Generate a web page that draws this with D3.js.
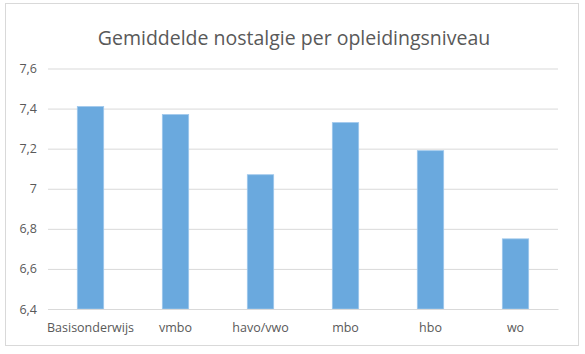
<!DOCTYPE html>
<html><head><meta charset="utf-8">
<script src="https://cdn.jsdelivr.net/npm/d3@7"></script>
<style>html,body{margin:0;padding:0;background:#fff;}svg{display:block;}</style>
</head><body>
<script>
const categories = ["Basisonderwijs","vmbo","havo/vwo","mbo","hbo","wo"];
const values = [7.41, 7.37, 7.07, 7.33, 7.19, 6.75];
const yTicks = [6.4, 6.6, 6.8, 7.0, 7.2, 7.4, 7.6];
const title = "Gemiddelde nostalgie per opleidingsniveau";

(function(){
const W = 585, H = 354;
const svg = d3.select("body").append("svg").attr("width", W).attr("height", H);
svg.append("rect").attr("x",5.5).attr("y",3.5).attr("width",573).attr("height",342)
  .attr("fill","#fff").attr("stroke","#d9d9d9").attr("stroke-width",1);

const mL = 48, mR = 558, mT = 68.5, mB = 309;
const x = d3.scaleBand().domain(categories).range([mL, mR]).paddingInner(0.69).paddingOuter(0.345);
const y = d3.scaleLinear().domain([6.4, 7.6]).range([mB, mT]);

const font = "'Open Sans', sans-serif";
svg.append("text").attr("x", 294).attr("y", 45).attr("text-anchor","middle")
  .attr("font-family", font).attr("font-size", 19.5).attr("fill","#595959").text(title);

const fmt = d => (Math.round(d*10)/10).toString().replace(".", ",");
const yAxis = d3.axisLeft(y).tickValues(yTicks).tickSize(-(mR-mL)).tickFormat(fmt).tickPadding(11);
const gy = svg.append("g").attr("transform",`translate(${mL},0)`).call(yAxis);
gy.select(".domain").remove();
gy.selectAll(".tick line").attr("stroke","#d9d9d9");
gy.selectAll(".tick text").attr("font-family",font).attr("font-size",12.5).attr("fill","#595959");

svg.append("g").selectAll("rect").data(values).join("rect")
  .attr("x",(d,i)=>x(categories[i])).attr("width",x.bandwidth())
  .attr("y",d=>y(d)).attr("height",d=>y(6.4)-y(d))
  .attr("fill","#6aa9de").attr("stroke","#9ec7ec").attr("stroke-width",0.8);

const xAxis = d3.axisBottom(x).tickSize(0).tickPadding(14);
const gx = svg.append("g").attr("transform",`translate(0,${mB})`).call(xAxis);
gx.select(".domain").attr("stroke","#d9d9d9");
gx.selectAll(".tick text").attr("font-family",font).attr("font-size",12.5).attr("fill","#595959");
})();
</script>
</body></html>
